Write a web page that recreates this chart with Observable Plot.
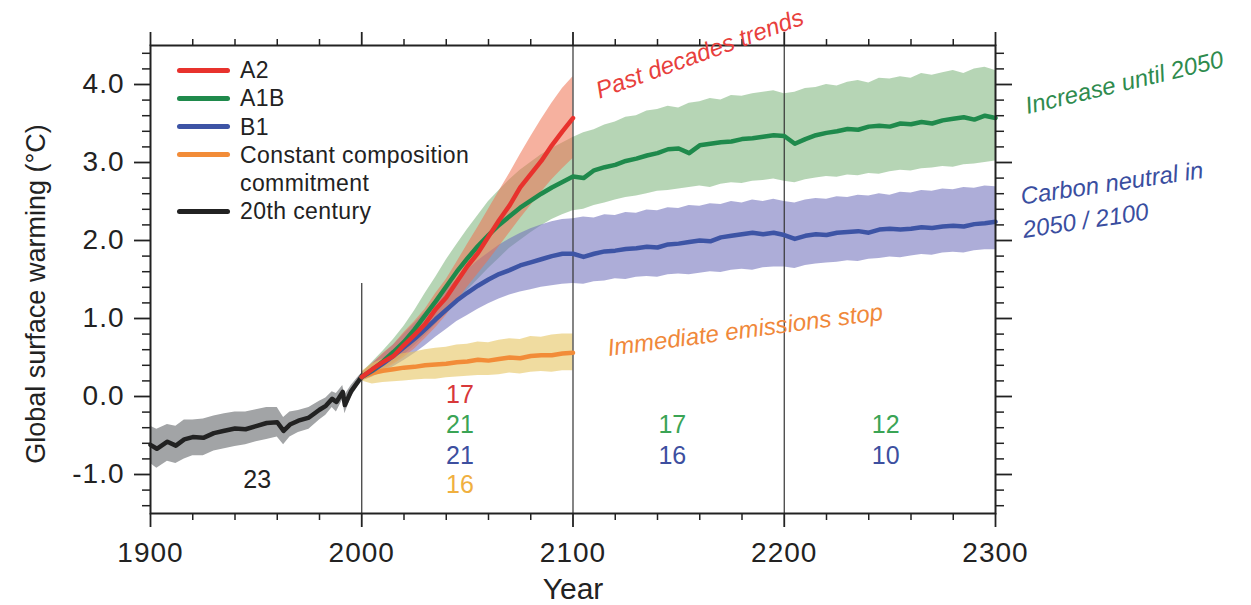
<!DOCTYPE html>
<html><head><meta charset="utf-8">
<script src="https://cdn.jsdelivr.net/npm/d3@7"></script>
<script src="https://cdn.jsdelivr.net/npm/@observablehq/plot@0.6"></script>
<style>
body{margin:0;background:#fff;}
#wrap{position:relative;width:1251px;height:605px;font-family:"Liberation Sans",Arial,sans-serif;overflow:hidden;}
#wrap svg{position:absolute;left:0;top:0;overflow:visible;}
#legend{position:absolute;left:177px;top:56px;}
.row{display:flex;align-items:flex-start;font-size:23px;line-height:28.3px;color:#222;letter-spacing:0.4px;white-space:nowrap;}
.sw{width:53px;height:5px;border-radius:3px;margin-top:11.6px;margin-right:10px;flex:none;}
#ylab{position:absolute;left:36px;top:294px;transform:translate(-50%,-50%) rotate(-90deg);font-size:27px;color:#222;white-space:nowrap;}
g[aria-label="x-axis tick label"] text, g[aria-label="y-axis tick label"] text{letter-spacing:1px;}
</style></head><body><div id="wrap"><div id="legend"></div><div id="ylab">Global surface warming (°C)</div></div>
<script>
// ---- 20th century (observed/modelled) ----
const histYears = [1900,1903,1908,1912,1916,1920,1925,1930,1935,1940,1945,1950,1955,1960,1963,1966,1970,1975,1980,1983,1986,1988,1991,1992,1995,1998,2000];
const histMean = [-0.62,-0.67,-0.58,-0.63,-0.55,-0.52,-0.53,-0.47,-0.44,-0.41,-0.42,-0.38,-0.34,-0.33,-0.44,-0.36,-0.31,-0.27,-0.17,-0.12,-0.03,-0.07,0.06,-0.11,0.07,0.18,0.26];
const histHi = [-0.38,-0.42,-0.36,-0.38,-0.3,-0.3,-0.29,-0.25,-0.22,-0.2,-0.2,-0.17,-0.14,-0.14,-0.27,-0.2,-0.18,-0.14,-0.06,-0.02,0.06,0.04,0.14,0.02,0.14,0.24,0.3];
const histLo = [-0.86,-0.92,-0.83,-0.86,-0.8,-0.76,-0.76,-0.7,-0.67,-0.64,-0.62,-0.58,-0.55,-0.52,-0.62,-0.52,-0.46,-0.42,-0.3,-0.24,-0.14,-0.2,-0.04,-0.22,-0.01,0.12,0.22];

// ---- 21st century scenarios (2000-2100) ----
const shortYears = [2000,2005,2010,2015,2020,2025,2030,2035,2040,2045,2050,2055,2060,2065,2070,2075,2080,2085,2090,2095,2100];
const a2Mean = [0.25,0.35,0.44,0.52,0.66,0.79,0.93,1.12,1.27,1.47,1.67,1.84,2.05,2.26,2.45,2.68,2.85,3.02,3.22,3.4,3.57];
const a2Hi = [0.3,0.42,0.55,0.66,0.82,0.96,1.12,1.32,1.5,1.72,1.95,2.17,2.4,2.63,2.86,3.1,3.33,3.55,3.76,3.95,4.1];
const a2Lo = [0.2,0.25,0.33,0.41,0.5,0.61,0.74,0.88,1.04,1.22,1.4,1.57,1.74,1.92,2.1,2.28,2.45,2.62,2.78,2.92,3.05];
const ccMean = [0.25,0.3,0.33,0.35,0.37,0.38,0.4,0.41,0.42,0.44,0.45,0.47,0.46,0.48,0.5,0.49,0.52,0.53,0.53,0.55,0.56];
const ccHi = [0.32,0.42,0.48,0.52,0.55,0.57,0.6,0.62,0.63,0.66,0.67,0.7,0.69,0.72,0.74,0.73,0.77,0.76,0.79,0.8,0.8];
const ccLo = [0.2,0.16,0.18,0.19,0.2,0.21,0.22,0.22,0.24,0.25,0.26,0.27,0.27,0.28,0.3,0.29,0.31,0.32,0.31,0.33,0.33];

// ---- long scenarios (2000-2300) ----
const longYears = [2000,2005,2010,2015,2020,2025,2030,2035,2040,2045,2050,2055,2060,2065,2070,2075,2080,2085,2090,2095,
  2100,2105,2110,2115,2120,2125,2130,2135,2140,2145,2150,2155,2160,2165,2170,2175,2180,2185,2190,2195,
  2200,2205,2210,2215,2220,2225,2230,2235,2240,2245,2250,2255,2260,2265,2270,2275,2280,2285,2290,2295,2300];
const a1bMean = [0.25,0.34,0.45,0.57,0.7,0.86,1.04,1.22,1.41,1.6,1.77,1.93,2.07,2.2,2.31,2.42,2.51,2.6,2.68,2.75,
  2.82,2.8,2.9,2.94,2.97,3.02,3.05,3.09,3.12,3.17,3.18,3.12,3.22,3.24,3.26,3.27,3.3,3.31,3.33,3.35,
  3.34,3.24,3.3,3.35,3.38,3.4,3.43,3.42,3.46,3.47,3.46,3.5,3.49,3.52,3.5,3.54,3.56,3.58,3.55,3.6,3.57];
const a1bHi = [0.3,0.44,0.58,0.73,0.9,1.1,1.32,1.53,1.75,1.95,2.14,2.32,2.5,2.64,2.78,2.9,3.0,3.1,3.18,3.25,
  3.32,3.38,3.42,3.48,3.52,3.58,3.6,3.66,3.68,3.72,3.7,3.76,3.78,3.82,3.8,3.86,3.85,3.88,3.9,3.92,
  3.88,3.9,3.95,3.96,4.0,3.98,4.03,4.05,4.02,4.08,4.07,4.1,4.08,4.14,4.12,4.15,4.18,4.14,4.2,4.22,4.18];
const a1bLo = [0.2,0.26,0.34,0.43,0.53,0.65,0.78,0.92,1.07,1.22,1.36,1.5,1.64,1.77,1.9,2.0,2.1,2.19,2.27,2.33,
  2.38,2.4,2.45,2.48,2.52,2.55,2.57,2.6,2.63,2.64,2.66,2.68,2.7,2.68,2.72,2.74,2.73,2.76,2.77,2.79,
  2.76,2.74,2.78,2.8,2.82,2.81,2.84,2.83,2.86,2.85,2.88,2.9,2.89,2.92,2.93,2.95,2.94,2.97,2.98,3.0,3.02];
const b1Mean = [0.25,0.33,0.42,0.52,0.63,0.74,0.86,0.99,1.11,1.23,1.33,1.42,1.5,1.57,1.62,1.68,1.72,1.76,1.8,1.83,
  1.83,1.79,1.83,1.86,1.87,1.89,1.9,1.92,1.91,1.95,1.96,1.98,2.0,1.99,2.04,2.06,2.08,2.1,2.08,2.1,
  2.07,2.02,2.06,2.08,2.07,2.1,2.11,2.12,2.1,2.14,2.15,2.14,2.15,2.17,2.16,2.18,2.19,2.18,2.21,2.22,2.24];
const b1Hi = [0.3,0.42,0.54,0.66,0.8,0.94,1.08,1.22,1.37,1.5,1.62,1.74,1.84,1.94,2.02,2.09,2.15,2.2,2.24,2.27,
  2.28,2.3,2.29,2.33,2.32,2.36,2.35,2.39,2.38,2.42,2.41,2.45,2.44,2.47,2.46,2.5,2.48,2.52,2.5,2.53,
  2.5,2.48,2.52,2.54,2.53,2.56,2.55,2.58,2.57,2.6,2.58,2.62,2.61,2.64,2.63,2.66,2.65,2.68,2.67,2.7,2.69];
const b1Lo = [0.2,0.25,0.31,0.38,0.46,0.55,0.65,0.76,0.86,0.96,1.04,1.12,1.19,1.25,1.3,1.34,1.37,1.4,1.42,1.44,
  1.45,1.44,1.47,1.48,1.51,1.5,1.53,1.54,1.53,1.56,1.57,1.56,1.58,1.6,1.59,1.62,1.63,1.62,1.65,1.66,
  1.66,1.64,1.68,1.7,1.71,1.72,1.74,1.73,1.76,1.77,1.79,1.78,1.8,1.82,1.81,1.84,1.85,1.84,1.87,1.88,1.88];

// ---- axes ----
const xMajor = [1900,2000,2100,2200,2300];
const xMinor = [1920,1940,1960,1980,2020,2040,2060,2080,2120,2140,2160,2180,2220,2240,2260,2280];
const yMajor = [-1,0,1,2,3,4];
const yMinor = [-1.4,-1.2,-0.8,-0.6,-0.4,-0.2,0.2,0.4,0.6,0.8,1.2,1.4,1.6,1.8,2.2,2.4,2.6,2.8,3.2,3.4,3.6,3.8,4.2,4.4];

// ---- period dividers ----
const divX = [2000,2100,2200];
const divTop = [1.45,4.5,4.5];
const divBottom = [-1.5,-1.5,-1.5];

// ---- trend numbers ----
const trendText = ["17","21","21","16","23","17","16","12","10"];
const trendYear = [2046.5,2046.5,2046.5,2046.5,1950.5,2147,2147,2248,2248];
const trendVal = [0.02,-0.37,-0.76,-1.14,-1.07,-0.37,-0.76,-0.37,-0.76];
const trendColor = ["#d8383a","#3aa455","#3d4f9f","#f0b040","#222222","#3aa455","#3d4f9f","#3aa455","#3d4f9f"];

// ---- annotations ----
const noteText = ["Past decades trends","Increase until 2050","Carbon neutral in","2050 / 2100","Immediate emissions stop"];
const noteYear = [2160,2361,2312,2313,2181.5];
const noteVal = [4.39,4.02,2.56,2.13,0.85];
const noteRotate = [-20,-13.5,-8.3,-8.5,-7.5];
const noteAnchor = ["middle","middle","start","start","middle"];
const noteColor = ["#e8403c","#2e8b4e","#3a4ea0","#3a4ea0","#f0883a"];

// ---- legend ----
const legendLabels = ["A2","A1B","B1","Constant composition<br>commitment","20th century"];
const legendColors = ["#e8322d","#1f8a4c","#3d54a5","#f28c38","#222222"];

const hist = histYears.map((year,i)=>({year, mean:histMean[i], hi:histHi[i], lo:histLo[i]}));
const shortT = shortYears.map((year,i)=>({year, a2:a2Mean[i], a2Hi:a2Hi[i], a2Lo:a2Lo[i], cc:ccMean[i], ccHi:ccHi[i], ccLo:ccLo[i]}));
const longT = longYears.map((year,i)=>({year, a1b:a1bMean[i], a1bHi:a1bHi[i], a1bLo:a1bLo[i], b1:b1Mean[i], b1Hi:b1Hi[i], b1Lo:b1Lo[i]}));
const dividers = divX.map((x,i)=>({x, y1:divBottom[i], y2:divTop[i]}));
const trends = trendText.map((t,i)=>({t, x:trendYear[i], y:trendVal[i], c:trendColor[i]}));
const notes = noteText.map((t,i)=>({t, x:noteYear[i], y:noteVal[i], r:noteRotate[i], a:noteAnchor[i], c:noteColor[i]}));

const font = '"Liberation Sans", Arial, sans-serif';
const chart = Plot.plot({
  width: 1251, height: 605,
  marginTop: 45, marginRight: 256, marginBottom: 92, marginLeft: 150,
  x: {domain: [1900, 2300]},
  y: {domain: [-1.5, 4.5]},
  color: {type: "identity"},
  style: {fontFamily: font, color: "#222", background: "transparent", overflow: "visible"},
  marks: [
    Plot.areaY(hist, {x:"year", y1:"lo", y2:"hi", fill:"#a2a4a6"}),
    Plot.areaY(longT, {x:"year", y1:"a1bLo", y2:"a1bHi", fill:"#82b77f", fillOpacity:0.58}),
    Plot.areaY(longT, {x:"year", y1:"b1Lo", y2:"b1Hi", fill:"#7171bc", fillOpacity:0.58}),
    Plot.areaY(shortT, {x:"year", y1:"a2Lo", y2:"a2Hi", fill:"#ee7150", fillOpacity:0.55}),
    Plot.areaY(shortT, {x:"year", y1:"ccLo", y2:"ccHi", fill:"#e6c561", fillOpacity:0.6}),
    Plot.ruleX(dividers, {x:"x", y1:"y1", y2:"y2", stroke:"#333", strokeWidth:1.2}),
    Plot.line(hist, {x:"year", y:"mean", stroke:"#222", strokeWidth:4.5}),
    Plot.line(shortT, {x:"year", y:"cc", stroke:"#f28c38", strokeWidth:4.5}),
    Plot.line(longT, {x:"year", y:"b1", stroke:"#3d54a5", strokeWidth:4.5}),
    Plot.line(longT, {x:"year", y:"a1b", stroke:"#1f8a4c", strokeWidth:4.5}),
    Plot.line(shortT, {x:"year", y:"a2", stroke:"#e8322d", strokeWidth:4.5}),
    Plot.frame({stroke:"#222", strokeWidth:2}),
    Plot.axisX({anchor:"bottom", ticks:xMajor, tickSize:14, tickPadding:15, tickFormat:"d", fontSize:28, label:null, strokeWidth:1.8}),
    Plot.axisX({anchor:"bottom", ticks:xMinor, tickSize:7, text:null, label:null, strokeWidth:1.5}),
    Plot.axisX({anchor:"top", ticks:xMajor, tickSize:14, text:null, label:null, strokeWidth:1.8}),
    Plot.axisX({anchor:"top", ticks:xMinor, tickSize:7, text:null, label:null, strokeWidth:1.5}),
    Plot.axisY({anchor:"left", ticks:yMajor, tickSize:16, tickPadding:10, tickFormat:d=>d.toFixed(1), fontSize:28, label:null, strokeWidth:1.8}),
    Plot.axisY({anchor:"left", ticks:yMinor, tickSize:8, text:null, label:null, strokeWidth:1.5}),
    Plot.axisY({anchor:"right", ticks:yMajor, tickSize:16, text:null, label:null, strokeWidth:1.8}),
    Plot.axisY({anchor:"right", ticks:yMinor, tickSize:8, text:null, label:null, strokeWidth:1.5}),
    Plot.text(["Year"], {frameAnchor:"bottom", dy:85, fontSize:30, fill:"#222"}),
    Plot.text(trends, {x:"x", y:"y", text:"t", fill:"c", fontSize:25}),
    Plot.text(notes, {x:"x", y:"y", text:"t", fill:"c", rotate:"r", textAnchor:"middle", fontSize:24, fontStyle:"italic",
      filter:(d)=>d.a==="middle"}),
    Plot.text(notes, {x:"x", y:"y", text:"t", fill:"c", rotate:"r", textAnchor:"start", fontSize:24, fontStyle:"italic",
      filter:(d)=>d.a==="start"})
  ]
});
document.getElementById("wrap").insertBefore(chart, document.getElementById("legend"));

const leg = document.getElementById("legend");
legendLabels.forEach((lab,i)=>{
  const row = document.createElement("div");
  row.className = "row";
  row.innerHTML = `<span class="sw" style="background:${legendColors[i]}"></span><span>${lab}</span>`;
  leg.appendChild(row);
});
</script></body></html>
